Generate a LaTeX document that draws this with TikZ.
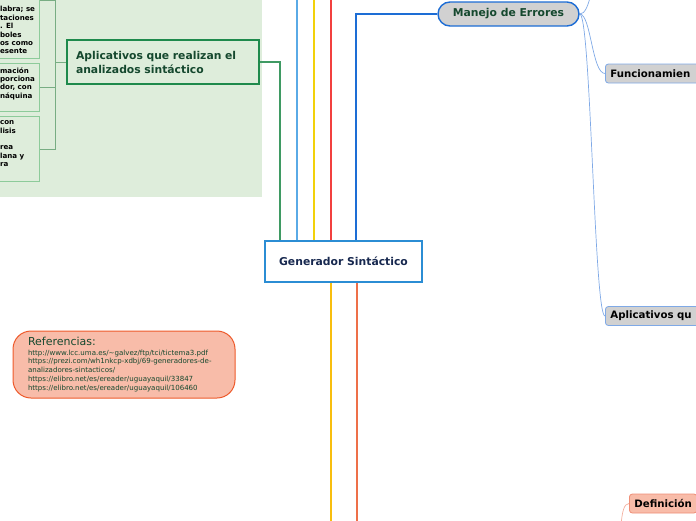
\documentclass[tikz,border=0pt]{standalone}
\usepackage{fontspec}
\setmainfont{DejaVu Sans}
\usepackage{tikz}
\usetikzlibrary{positioning,calc,backgrounds}
\usepackage{xcolor}
\definecolor{bggreen}{HTML}{DEEDDB}
\definecolor{leafgreen}{HTML}{8DCB9A}
\definecolor{aplgreen}{HTML}{1E8A4C}
\definecolor{txtgreen}{HTML}{15482E}
\definecolor{genblue}{HTML}{2B8DD4}
\definecolor{gentext}{HTML}{17284F}
\definecolor{errblue}{HTML}{1D6DD5}
\definecolor{subblue}{HTML}{7FA9E6}
\definecolor{subgray}{HTML}{D1D1D1}
\definecolor{reffill}{HTML}{F8BCA9}
\definecolor{refline}{HTML}{EE5A2B}
\definecolor{defline}{HTML}{EF8E76}
\definecolor{lnblue}{HTML}{5AAAE6}
\definecolor{lnyellow}{HTML}{F2D10A}
\definecolor{lnred}{HTML}{F2403F}
\definecolor{lngold}{HTML}{F8BE0E}
\definecolor{lnorange}{HTML}{EE7049}
\definecolor{lngreen}{HTML}{3F9A63}
\tikzstyle{mindmap}=[
  x=1pt,y=-1pt,font=\bfseries
]
\tikzstyle{rootnode}=[
  draw=genblue,line width=2pt,fill=white,minimum width=157pt,minimum height=41pt,
  text=gentext,font=\fontsize{10.8}{12}\selectfont\bfseries
]
\tikzstyle{topicnode}=[
  draw=aplgreen,line width=2pt,fill=bggreen,minimum height=44pt,inner xsep=9pt,
  text width=174pt,align=left,text=txtgreen,font=\fontsize{10.8}{14}\selectfont\bfseries
]
\tikzstyle{errnode}=[
  draw=errblue,line width=1.4pt,fill=subgray,rounded corners=12pt,minimum width=141pt,
  minimum height=24pt,text=txtgreen,font=\fontsize{10.8}{12}\selectfont\bfseries
]
\tikzstyle{leafnode}=[
  draw=leafgreen,line width=0.8pt,fill=bggreen,inner xsep=0pt,inner ysep=4pt,anchor=east,
  text=black,font=\fontsize{7.1}{8.4}\selectfont\bfseries
]
\tikzstyle{subnode}=[
  draw=subblue,line width=0.8pt,fill=subgray,rounded corners=3pt,minimum height=19pt,
  inner xsep=5pt,anchor=west,align=left,text=black,font=\fontsize{10.2}{12}\selectfont\bfseries
]
\tikzstyle{refnode}=[
  draw=refline,line width=1pt,fill=reffill,rounded corners=18pt,minimum width=222pt,
  minimum height=67pt,inner xsep=15pt,text width=192pt,align=left,text=txtgreen,font=\mdseries
]
\tikzstyle{branchedge}=[
  line width=1.3pt
]
\tikzstyle{leafedge}=[
  line width=0.9pt,draw=leafgreen!85!black
]
\tikzstyle{subedge}=[
  line width=0.7pt,draw=subblue
]

\begin{document}
\begin{tikzpicture}[mindmap]
    \useasboundingbox (0,0) rectangle (696,520);
      \node (gen) at (343.5,261.5) [rootnode] {Generador Sintáctico};
      \node (apl) at (163,62) [topicnode] {Aplicativos que realizan el\\analizados sintáctico};
      \node (err) at (508.5,14) [errnode] {Manejo de Errores};
      \node (b1) at (40,0) [leafnode] {\parbox[c][108pt][b]{140pt}{\leftskip=100.5pt
        labra; se\\taciones\\. El\\boles\\os como\\esente}};
      \node (b2) at (40,87.2) [leafnode] {\parbox[c][39.7pt][t]{140pt}{\leftskip=100.5pt
        mación\\porciona\\dor, con\\náquina}};
      \node (b3) at (40,149.2) [leafnode] {\parbox[c][57pt][t]{140pt}{\leftskip=100.5pt
        con\\lisis\\\mbox{}\\rea\\lana y\\ra}};
      \node (fun) at (605,73.5) [subnode,text width=110pt] {Funcionamien};
      \node (apq) at (605,316) [subnode,text width=110pt] {Aplicativos qu};
      \node (def) at (629,503.5) [subnode,fill=reffill,draw=defline] {Definición};
      \node (ref) at (124,364.5) [refnode] {{\fontsize{11}{12}\selectfont Referencias:\par}
        \vspace{0.6pt}{\fontsize{7.05}{8.7}\selectfont
        \mbox{http://www.lcc.uma.es/\textasciitilde galvez/ftp/tci/tictema3.pdf}\\
        \mbox{https://prezi.com/wh1nkcp-xdbj/69-generadores-de-}\\
        \mbox{analizadores-sintacticos/}\\
        \mbox{https://elibro.net/es/ereader/uguayaquil/33847}\\
        \mbox{https://elibro.net/es/ereader/uguayaquil/106460}\par}};
      \coordinate (spine) at (55,62);
      \coordinate (top1) at (297,-4);
      \coordinate (top2) at (314,-4);
      \coordinate (top3) at (331,-4);
      \coordinate (bot1) at (331,524);
      \coordinate (bot2) at (357,524);
      \coordinate (errup) at (591,-6);
      \coordinate (defdn) at (621,526);
    \begin{scope}[on background layer]
      \fill [bggreen] (0,0) rectangle (262,197);
      \draw [leafedge] (apl.west) -- (spine);
      \draw [leafedge] (b1.east) -| (spine);
      \draw [leafedge] (b2.east) -| (spine);
      \draw [leafedge] (b3.east) -| (spine);
      \draw [branchedge,lngreen] (apl.east) -| ([xshift=16pt]gen.north west);
      \draw [branchedge,lnblue] (top1 |- gen.north) -- (top1);
      \draw [branchedge,lnyellow] (top2 |- gen.north) -- (top2);
      \draw [branchedge,lnred] (top3 |- gen.north) -- (top3);
      \draw [branchedge,errblue] ([xshift=92pt]gen.north west) |- (err.west);
      \draw [branchedge,lngold] (bot1 |- gen.south) -- (bot1);
      \draw [branchedge,lnorange] (bot2 |- gen.south) -- (bot2);
      \draw [subedge] (err.east) .. controls (585,14) and (588,6) .. (errup);
      \draw [subedge] (err.east) .. controls (591,14) and (592,73.5) .. (fun.west);
      \draw [subedge] (err.east) .. controls (591,14) and (594,316) .. (apq.west);
      \draw [subedge,draw=defline!70] (def.west) .. controls (624,503.5) and (622,512) .. (defdn);
    \end{scope}
\end{tikzpicture}
\end{document}
